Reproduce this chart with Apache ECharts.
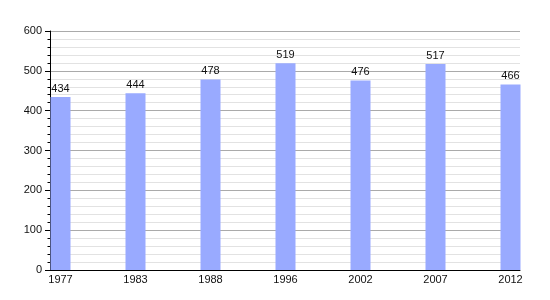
<!DOCTYPE html>
<html><head><meta charset="utf-8">
<script src="https://cdn.jsdelivr.net/npm/echarts@6/dist/echarts.min.js"></script>
<style>html,body{margin:0;padding:0;background:#fff}#c{width:550px;height:300px}</style>
</head><body><div id="c"></div>
<script>
const years = ['1977','1983','1988','1996','2002','2007','2012'];
const population = [434, 444, 478, 519, 476, 517, 466];
const yTicks = {min: 0, max: 600, interval: 100};

const chart = echarts.init(document.getElementById('c'));
const font = 'Liberation Sans, Arial, sans-serif';
chart.setOption({
  animation: false,
  grid: [
    {left: 50, right: 30, top: 31, bottom: 30},
    {left: 60.5, right: 39.5, top: 31, bottom: 30}
  ],
  xAxis: [
    {gridIndex: 0, type: 'value', min: 0, max: 1,
     axisLine: {show: true, onZero: false, lineStyle: {color: '#000', width: 1}},
     axisTick: {show: false}, axisLabel: {show: false}, splitLine: {show: false}},
    {gridIndex: 1, type: 'category', data: years, boundaryGap: false,
     axisLine: {show: false}, axisTick: {show: false},
     axisLabel: {color: '#111', fontSize: 11, fontFamily: font, margin: 4, interval: 0}}
  ],
  yAxis: [
    {gridIndex: 0, type: 'value', min: yTicks.min, max: yTicks.max, interval: yTicks.interval,
     axisLine: {show: true, lineStyle: {color: '#000'}},
     axisTick: {show: true, length: 5, lineStyle: {color: '#000'}},
     minorTick: {show: true, splitNumber: 5, length: 2.5, lineStyle: {color: '#000'}},
     axisLabel: {color: '#111', fontSize: 11, fontFamily: font, margin: 8},
     splitLine: {show: true, lineStyle: {color: '#aaaaaa', width: 1}},
     minorSplitLine: {show: true, lineStyle: {color: '#e2e2e2', width: 1}}},
    {gridIndex: 1, type: 'value', min: yTicks.min, max: yTicks.max, show: false,
     splitLine: {show: false}}
  ],
  series: [{
    type: 'bar', xAxisIndex: 1, yAxisIndex: 1, data: population, barWidth: 20,
    itemStyle: {color: '#99aaff'},
    label: {show: true, position: 'top', distance: 3, color: '#111', fontSize: 11, fontFamily: font}
  }]
});
</script></body></html>
